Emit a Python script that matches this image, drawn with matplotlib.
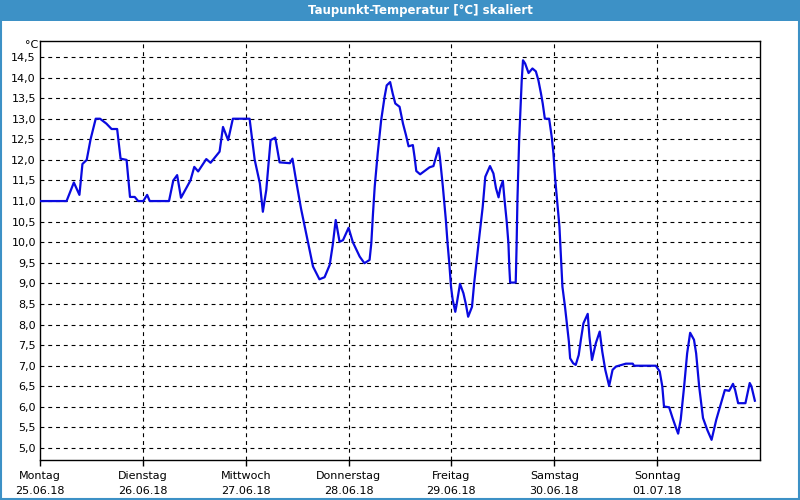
import matplotlib
matplotlib.use("Agg")
import matplotlib.pyplot as plt
from matplotlib.patches import Rectangle

# hours since Monday 25.06.18 00:00
hours = [0, 6.2, 7.9, 9.2, 9.9, 10.9, 11.8, 13.0, 14.0, 15.5, 16.7, 18.0, 18.8, 20.2,
         21.0, 22.1, 22.9, 24.1, 25.0, 25.6, 30.1, 31.1, 32.0, 32.9, 35.1, 36.0, 36.9,
         38.8, 39.8, 41.9, 42.7, 43.9, 45.0, 48.9, 50.1, 51.3, 52.0, 52.8, 53.8, 54.9,
         55.9, 58.3, 58.9, 59.8, 60.9, 62.5, 63.7, 65.2, 66.4, 67.6, 68.3, 69.0, 69.9,
         70.7, 72.0, 73.0, 74.6, 75.7, 76.9, 77.3, 77.7, 78.1, 78.8, 79.6, 80.4, 80.9,
         81.7, 82.3, 82.9, 83.9, 84.7, 85.4, 86.0, 87.0, 87.4, 87.8, 88.7, 90.9, 91.8,
         92.4, 93.0, 93.3, 94.0, 94.7, 95.1, 95.5, 95.9, 96.3, 96.9, 97.2, 98.0, 98.8,
         99.4, 99.9, 100.8, 101.3, 101.9, 102.5, 103.3, 103.9, 105.0, 105.8, 106.4,
         107.0, 107.4, 108.0, 108.4, 108.9, 109.3, 109.5, 109.7, 111.0, 111.2, 111.4,
         111.8, 112.2, 112.4, 112.7, 113.2, 114.0, 114.9, 115.7, 116.3, 116.9, 117.3,
         117.8, 118.8, 119.4, 119.8, 120.2, 120.8, 121.2, 121.6, 121.9, 122.5, 123.0,
         123.4, 123.7, 124.4, 125.0, 125.7, 126.2, 126.8, 127.8, 128.2, 128.8, 129.7,
         130.6, 131.2, 131.9, 132.8, 133.6, 134.4, 136.7, 138.3, 138.6, 143.7, 144.6,
         145.2, 145.6, 146.8, 147.6, 148.3, 148.9, 149.5, 150.3, 151.0, 151.7, 152.6,
         153.1, 153.8, 154.7, 155.7, 156.7, 157.8, 158.8, 159.8, 160.8, 161.7, 162.2,
         162.9, 164.6, 165.6, 166.0, 166.8]
taupunkt = [11.0, 11.0, 11.45, 11.15, 11.9, 12.0, 12.5, 13.0, 13.0, 12.88, 12.75, 12.75,
            12.03, 12.0, 11.1, 11.1, 11.0, 11.0, 11.15, 11.0, 11.0, 11.5, 11.63, 11.08,
            11.5, 11.83, 11.72, 12.02, 11.93, 12.2, 12.8, 12.48, 13.0, 13.0, 12.0, 11.43,
            10.74, 11.27, 12.48, 12.54, 11.94, 11.92, 12.03, 11.47, 10.82, 10.01, 9.41,
            9.1, 9.15, 9.45, 9.93, 10.54, 10.01, 10.05, 10.35, 10.0, 9.65, 9.49, 9.57,
            9.97, 10.7, 11.35, 12.16, 12.96, 13.53, 13.81, 13.89, 13.61, 13.37, 13.29,
            12.88, 12.6, 12.33, 12.36, 12.07, 11.73, 11.65, 11.82, 11.85, 12.07, 12.29,
            12.07, 11.35, 10.54, 9.97, 9.49, 8.92, 8.6, 8.31, 8.48, 8.99, 8.76, 8.48,
            8.19, 8.43, 9.0, 9.57, 10.13, 10.86, 11.59, 11.85, 11.67, 11.31, 11.09,
            11.31, 11.49, 11.02, 10.5, 9.97, 9.41, 9.02, 9.02, 9.89, 11.02, 12.48, 13.45,
            13.93, 14.42, 14.34, 14.11, 14.22, 14.15, 13.93, 13.61, 13.37, 13.0, 13.0,
            12.56, 12.16, 11.55, 10.86, 10.38, 9.57, 8.92, 8.43, 7.95, 7.59, 7.18, 7.06,
            7.02, 7.26, 7.63, 8.03, 8.26, 7.71, 7.14, 7.55, 7.83, 7.34, 6.9, 6.51, 6.9,
            6.98, 7.05, 7.05, 7.0, 7.0, 6.86, 6.5, 6.01, 5.99, 5.73, 5.52, 5.35, 5.69,
            6.5, 7.3, 7.8, 7.63, 7.3, 6.5, 5.73, 5.44, 5.2, 5.69, 6.05, 6.41, 6.39, 6.56,
            6.41, 6.09, 6.09, 6.58, 6.5, 6.15]

tage = ["Montag", "Dienstag", "Mittwoch", "Donnerstag", "Freitag", "Samstag", "Sonntag"]
daten = ["25.06.18", "26.06.18", "27.06.18", "28.06.18", "29.06.18", "30.06.18", "01.07.18"]
y_ticks = [5.0 + 0.5 * i for i in range(20)]

plt.rcParams["font.family"] = "DejaVu Sans"
fig = plt.figure(figsize=(8, 5), dpi=100)
fig.patch.set_facecolor("white")

# title bar and outer frame
fig.patches.append(Rectangle((0, 0.958), 1, 0.042, transform=fig.transFigure,
                             facecolor="#3d91c6", edgecolor="none", zorder=0))
fig.patches.append(Rectangle((0.001, 0.002), 0.998, 0.996, transform=fig.transFigure,
                             facecolor="none", edgecolor="#3d91c6", lw=1.5, zorder=5))
fig.text(0.525, 0.979, "Taupunkt-Temperatur [°C] skaliert", color="white",
         ha="center", va="center", fontsize=8.5, fontweight="bold")

ax = fig.add_axes([0.05, 0.08, 0.9, 0.839])
ax.plot(hours, taupunkt, color="#0a0ae0", lw=1.6, zorder=3)

ax.set_xlim(0, 168)
ax.set_ylim(4.71, 14.9)

ax.set_yticks(y_ticks)
ax.set_yticklabels([f"{v:.1f}".replace(".", ",") for v in y_ticks], fontsize=8)
ax.tick_params(axis="y", length=0, pad=3)

ax.set_xticks([24 * i for i in range(7)])
ax.set_xticklabels([f"{t}\n{d}" for t, d in zip(tage, daten)], fontsize=8, linespacing=1.6)
ax.tick_params(axis="x", length=4, width=1, direction="out", pad=4)

for v in y_ticks:
    ax.axhline(v, color="black", lw=0.8, ls=(0, (3.5, 3.5)), zorder=1)
for i in range(1, 7):
    ax.axvline(24 * i, color="black", lw=0.8, ls=(0, (3.5, 3.5)), zorder=1)

for s in ax.spines.values():
    s.set_linewidth(1.0)
    s.set_color("black")

fig.text(0.0475, 0.909, "°C", ha="right", va="center", fontsize=8)

fig.savefig("out.png", dpi=100)
